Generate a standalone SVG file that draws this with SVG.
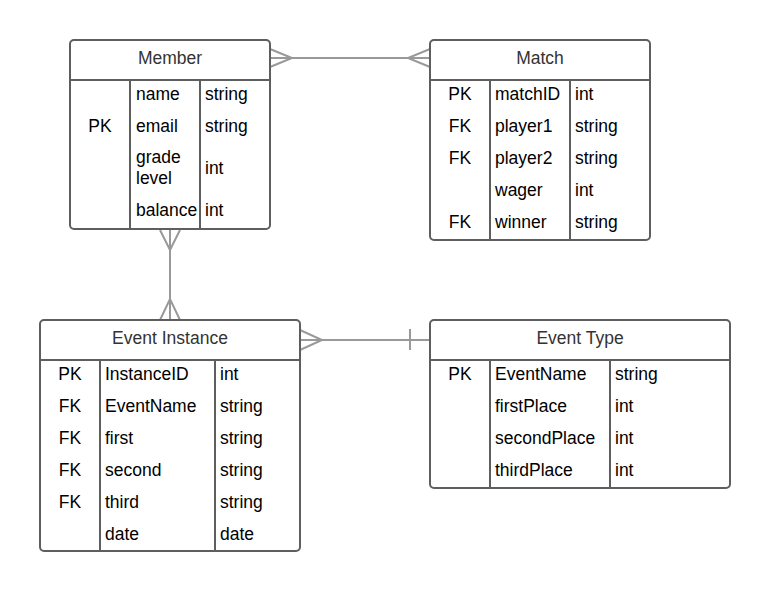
<svg xmlns="http://www.w3.org/2000/svg" width="770" height="592" viewBox="0 0 770 592">
<style>
.box{fill:#fff;stroke:#5e5e5e;stroke-width:2}
.ln{stroke:#5e5e5e;stroke-width:2;fill:none}
.hd{font-family:"Liberation Sans",Arial,sans-serif;font-size:17.5px;fill:#333;text-anchor:middle}
.t{font-family:"Liberation Sans",Arial,sans-serif;font-size:17.5px;fill:#000}
.k{text-anchor:middle}
.cn{stroke:#999;stroke-width:2;fill:none}
</style>
<rect width="770" height="592" fill="#fff"/>
<g id="connectors">
<path class="cn" d="M270,58 H430"/>
<path class="cn" d="M270,49 L292,58 L270,67"/>
<path class="cn" d="M430,49 L408,58 L430,67"/>
<path class="cn" d="M170,230 V320"/>
<path class="cn" d="M160,230 L170,250 L180,230"/>
<path class="cn" d="M160,320 L170,299 L180,320"/>
<path class="cn" d="M300,340 H430"/>
<path class="cn" d="M300,330 L322,340 L300,350"/>
<path class="cn" d="M410,329 V350"/>
</g>
<g id="member">
<rect class="box" x="70" y="40" width="200" height="189" rx="4"/>
<path class="ln" d="M70,80 H270 M130,80 V229 M200,80 V229"/>
<text class="hd" x="170" y="64">Member</text>
<text class="t" x="136" y="100">name</text><text class="t" x="205" y="100">string</text>
<text class="t k" x="100" y="132">PK</text><text class="t" x="136" y="132">email</text><text class="t" x="205" y="132">string</text>
<text class="t" x="136" y="163">grade</text><text class="t" x="136" y="184">level</text><text class="t" x="205" y="174">int</text>
<text class="t" x="136" y="216">balance</text><text class="t" x="205" y="216">int</text>
</g>
<g id="match">
<rect class="box" x="430" y="40" width="220" height="200" rx="4"/>
<path class="ln" d="M430,80 H650 M490,80 V240 M570,80 V240"/>
<text class="hd" x="540" y="64">Match</text>
<text class="t k" x="460" y="100">PK</text><text class="t" x="495" y="100">matchID</text><text class="t" x="575" y="100">int</text>
<text class="t k" x="460" y="132">FK</text><text class="t" x="495" y="132">player1</text><text class="t" x="575" y="132">string</text>
<text class="t k" x="460" y="164">FK</text><text class="t" x="495" y="164">player2</text><text class="t" x="575" y="164">string</text>
<text class="t" x="495" y="196">wager</text><text class="t" x="575" y="196">int</text>
<text class="t k" x="460" y="228">FK</text><text class="t" x="495" y="228">winner</text><text class="t" x="575" y="228">string</text>
</g>
<g id="event-instance">
<rect class="box" x="40" y="320" width="260" height="231" rx="4"/>
<path class="ln" d="M40,360 H300 M100,360 V551 M215,360 V551"/>
<text class="hd" x="170" y="344">Event Instance</text>
<text class="t k" x="70" y="380">PK</text><text class="t" x="105" y="380">InstanceID</text><text class="t" x="220" y="380">int</text>
<text class="t k" x="70" y="412">FK</text><text class="t" x="105" y="412">EventName</text><text class="t" x="220" y="412">string</text>
<text class="t k" x="70" y="444">FK</text><text class="t" x="105" y="444">first</text><text class="t" x="220" y="444">string</text>
<text class="t k" x="70" y="476">FK</text><text class="t" x="105" y="476">second</text><text class="t" x="220" y="476">string</text>
<text class="t k" x="70" y="508">FK</text><text class="t" x="105" y="508">third</text><text class="t" x="220" y="508">string</text>
<text class="t" x="105" y="540">date</text><text class="t" x="220" y="540">date</text>
</g>
<g id="event-type">
<rect class="box" x="430" y="320" width="300" height="168" rx="4"/>
<path class="ln" d="M430,360 H730 M490,360 V488 M610,360 V488"/>
<text class="hd" x="580" y="344">Event Type</text>
<text class="t k" x="460" y="380">PK</text><text class="t" x="495" y="380">EventName</text><text class="t" x="615" y="380">string</text>
<text class="t" x="495" y="412">firstPlace</text><text class="t" x="615" y="412">int</text>
<text class="t" x="495" y="444">secondPlace</text><text class="t" x="615" y="444">int</text>
<text class="t" x="495" y="476">thirdPlace</text><text class="t" x="615" y="476">int</text>
</g>
</svg>
